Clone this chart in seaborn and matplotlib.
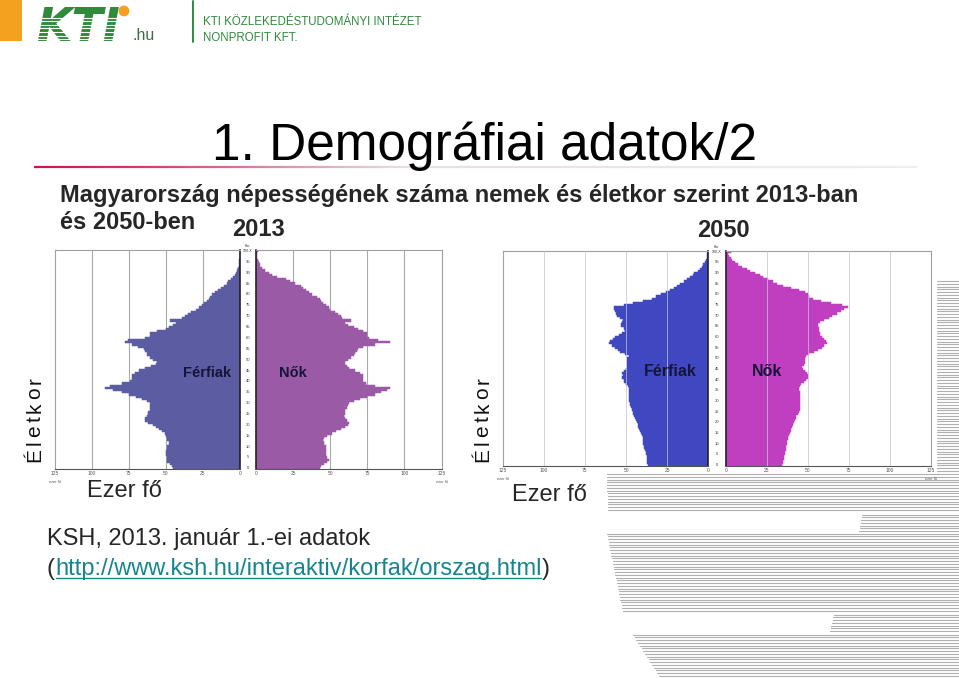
import matplotlib
matplotlib.use("Agg")
import matplotlib.pyplot as plt
import matplotlib.transforms as mtransforms
from matplotlib.collections import LineCollection
from matplotlib.colors import LinearSegmentedColormap
import numpy as np
import pandas as pd
import seaborn as sns

# ---------------- data (thousand persons, single years of age 0..100+) ----------------
ages = list(range(0, 101))

men_2013 = [
    45, 46, 47, 49, 49, 49, 50, 50, 50, 49,
    49, 48, 48, 49, 49, 50, 51, 53, 55, 57,
    59, 62, 64, 64, 63, 62, 62, 61, 61, 61,
    61, 63, 66, 70, 75, 80, 86, 91, 88, 80,
    74, 73, 73, 73, 71, 68, 64, 60, 57, 56,
    59, 61, 63, 63, 64, 65, 69, 73, 78, 76,
    64, 61, 61, 56, 50, 48, 45, 43, 47, 39,
    37, 35, 33, 30, 28, 26, 24, 22, 21, 20,
    19, 17, 15, 13, 11, 9, 8, 6, 5, 3.5,
    2.5, 1.8, 1.3, 1.0, 0.7, 0.5, 0.4, 0.3, 0.2, 0.1,
    0.3,
]
women_2013 = [
    43, 44, 46, 48, 49, 48, 47, 47, 47, 47,
    47, 46, 46, 45, 46, 48, 51, 54, 57, 60,
    62, 63, 61, 60, 59, 60, 60, 60, 61, 62,
    63, 66, 70, 75, 80, 84, 88, 90, 80, 74,
    72, 72, 72, 72, 70, 67, 63, 61, 60, 60,
    62, 64, 66, 67, 68, 69, 72, 80, 90, 82,
    76, 75, 75, 72, 69, 66, 62, 60, 64, 58,
    57, 55, 53, 50, 49, 47, 45, 44, 43, 41,
    38, 36, 34, 32, 30, 26, 23, 20, 14, 11,
    9, 6, 4, 3, 2.5, 2, 1.5, 1, 0.8, 0.6,
    1.5,
]
men_2050 = [
    36.5, 37, 37, 37.5, 37.5, 38, 38, 38.5, 39, 39,
    39.5, 39.5, 40, 40, 40.5, 41, 41.5, 42, 42.5, 43,
    43.5, 44, 44.5, 45, 45.5, 46, 46.5, 47, 47.5, 47.5,
    48, 48, 48, 48, 48, 48, 48.5, 49, 50, 51,
    51.5, 52.5, 52, 52.5, 51.5, 50, 49.5, 49.5, 49.5, 49.5,
    49.5, 48.5, 50.5, 53.5, 55, 56.5, 58.5, 60.5, 60, 58,
    56.5, 54.5, 52.5, 50.5, 51.5, 53, 53, 52.5, 52, 53.5,
    55.5, 56, 56.5, 57.5, 57.5, 51.5, 45.5, 39.5, 34.5, 31.5,
    29, 26, 23, 21, 19, 17, 15, 13, 11, 9.5,
    8.5, 6.5, 5, 4, 3, 2, 1.4, 1, 0.7, 0.5,
    0.4,
]
women_2050 = [
    34.5, 35, 35, 35.5, 35.5, 36, 36, 36.5, 37, 37,
    37.5, 37.5, 38, 38, 38.5, 39, 39.5, 40, 40.5, 41,
    41.5, 42, 42.5, 43, 44, 44.5, 45, 45.5, 45.5, 45.5,
    45.5, 45.5, 45, 45, 45, 44.5, 44.5, 45, 46, 47.5,
    49, 50, 50, 49.5, 48, 47, 46.5, 47.5, 48, 48,
    48, 49, 51, 54, 56.5, 58.5, 60, 61.5, 61, 60,
    58.5, 57.5, 57.5, 57, 57, 56.5, 56.5, 57.5, 60, 63,
    65, 67.5, 70, 72, 74.5, 71, 64, 58, 53, 51,
    50, 48, 44.5, 40, 35, 31, 29, 26, 23, 21,
    18, 15, 13, 10, 7.5, 5.5, 4, 3, 2, 1.5,
    3,
]
assert len(men_2013) == len(women_2013) == len(men_2050) == len(women_2050) == len(ages)

value_ticks = [0, 25, 50, 75, 100, 125]
age_ticks = list(range(0, 100, 5))
age_tick_labels = [str(a) for a in age_ticks]
top_age_label = "100-X"
age_header = "Kor"
unit_small = "ezer fő"

title = "1. Demográfiai adatok/2"
subtitle_1 = "Magyarország népességének száma nemek és életkor szerint 2013-ban"
subtitle_2 = "és 2050-ben"
year_labels = ["2013", "2050"]
sex_labels = ["Férfiak", "Nők"]
axis_age = "Életkor"
axis_unit = "Ezer fő"
source_1 = "KSH, 2013. január 1.-ei adatok"
source_url = "http://www.ksh.hu/interaktiv/korfak/orszag.html"
org_line_1 = "KTI KÖZLEKEDÉSTUDOMÁNYI INTÉZET"
org_line_2 = "NONPROFIT KFT."

# ---------------- style ----------------
sns.set_style("white")
plt.rcParams["font.family"] = ["Liberation Sans", "DejaVu Sans"]

W, H = 959, 678
fig = plt.figure(figsize=(W / 100, H / 100), dpi=100)
fig.patch.set_facecolor("white")


def box(x0, y0, x1, y1):
    return [x0 / W, 1 - y1 / H, (x1 - x0) / W, (y1 - y0) / H]


bg = fig.add_axes([0, 0, 1, 1], zorder=0)
bg.set_xlim(0, W)
bg.set_ylim(H, 0)
bg.axis("off")
renderer = fig.canvas.get_renderer()

# ---------------- header / logo ----------------
GREEN = "#2f8a3c"
bg.add_patch(plt.Rectangle((0, 0), 22, 41, color="#f4a11f", lw=0, zorder=1))
bg.text(36, 41, "KTI", fontsize=33, fontweight="bold", fontstyle="italic",
        family=["DejaVu Sans"], color=GREEN, va="baseline", ha="left", zorder=2)
for yy in np.arange(17.5, 41, 3.6):
    bg.plot([30, 132], [yy, yy], color="white", lw=0.8, zorder=3)
bg.add_patch(plt.Circle((124, 11), 5.4, color="#f4a11f", lw=0, zorder=4))
bg.text(132, 40, ".hu", fontsize=11.5, color="#3d6b47", va="baseline", ha="left")
bg.plot([193, 193], [1, 42], color=GREEN, lw=1.4)
bg.text(203, 25, org_line_1, fontsize=8.3, color=GREEN, va="baseline", ha="left")
bg.text(203, 41, org_line_2, fontsize=8.3, color=GREEN, va="baseline", ha="left")

# ---------------- title ----------------
bg.text(484.5, 160, title, fontsize=37, ha="center", va="baseline", color="black")
cmap = LinearSegmentedColormap.from_list(
    "tl", [(0, "#c3174f"), (0.15, "#d04a76"), (0.42, "#e6e0e2"), (1, "#eeeeee")])
xs = np.linspace(34, 917, 240)
segs = [[(xs[i], 167), (xs[i + 1], 167)] for i in range(len(xs) - 1)]
lc = LineCollection(segs, colors=cmap(np.linspace(0, 1, len(segs))), linewidths=1.6)
bg.add_collection(lc)

bg.text(60, 202, subtitle_1, fontsize=17, fontweight="bold", ha="left", va="baseline")
bg.text(60, 229, subtitle_2, fontsize=17, fontweight="bold", ha="left", va="baseline")
bg.text(232, 236, year_labels[0], fontsize=17, fontweight="bold", ha="left", va="baseline")
bg.text(697, 237, year_labels[1], fontsize=17, fontweight="bold", ha="left", va="baseline")

# ---------------- decorative stripes ----------------
stripe_bands = [
    (281, 472, 937, 937),
    (474, 512, 607, 608),
    (514.5, 531, 862, 859),
    (533.5, 612, 607, 623),
    (614.5, 632, 834, 830),
    (634.5, 677, 633, 660),
]
for y0, y1, xl0, xl1 in stripe_bands:
    for yy in np.arange(y0, y1 + 0.1, 2.75):
        f = (yy - y0) / max(y1 - y0, 1)
        bg.plot([xl0 + f * (xl1 - xl0), 959], [yy, yy], color="#b0b0b0", lw=0.8, zorder=1)


# ---------------- pyramids ----------------
def panel(rect, values, color, side, grid_top, label, label_x, label_size):
    ax = fig.add_axes(box(*rect), zorder=2)
    df = pd.DataFrame({"age": ages, "value": values})
    sns.barplot(data=df, x="value", y="age", orient="h", native_scale=True,
                color=color, saturation=1, width=1.0, errorbar=None,
                linewidth=0.35, edgecolor=color, ax=ax, zorder=2)
    ax.set_ylim(-0.5, 100.5)
    ax.set_xlim((125, 0) if side == "m" else (0, 125))
    ax.set_xlabel("")
    ax.set_ylabel("")
    ax.set_yticks([])
    ax.set_xticks(value_ticks)
    ax.set_xticklabels([str(v) for v in value_ticks], fontsize=3.5, color="#555555")
    ax.tick_params(axis="x", length=0, pad=1.5)
    for v in value_ticks[1:-1]:
        if grid_top:
            ax.axvline(v, color="#c4c4d4", lw=0.7, alpha=0.75, zorder=3)
        else:
            ax.axvline(v, color="#a8a8a8", lw=0.8, zorder=1)
    for s in ax.spines.values():
        s.set_visible(True)
        s.set_color("#a0a0a0")
        s.set_linewidth(0.8)
    ax.spines["bottom"].set_color("#555555")
    inner = "right" if side == "m" else "left"
    ax.spines[inner].set_color("#222222")
    ax.spines[inner].set_linewidth(1.2)
    ax.text(label_x, 44, label, fontsize=label_size, fontweight="bold",
            color="#15153a", ha="center", va="center", zorder=5)
    ax.text(125, -5.5, unit_small, fontsize=2.8, color="#555555", ha="center", va="top",
            clip_on=False)
    return ax


def age_column(ax_m, width_px, gap_px):
    trans = mtransforms.blended_transform_factory(ax_m.transAxes, ax_m.transData)
    xf = 1 + (gap_px / 2) / width_px
    for a, lab in zip(age_ticks, age_tick_labels):
        ax_m.text(xf, a, lab, transform=trans, fontsize=3, color="#333333",
                  ha="center", va="center", clip_on=False)
    ax_m.text(xf, 100, top_age_label, transform=trans, fontsize=2.6, color="#333333",
              ha="center", va="center", clip_on=False)
    ax_m.text(xf, 102.2, age_header, transform=trans, fontsize=2.6, color="#333333",
              ha="center", va="center", clip_on=False)


m13 = panel((55, 249.9, 240, 469.4), men_2013, "#5c5ca2", "m", False, sex_labels[0], 22, 10.5)
f13 = panel((256, 249.9, 441.5, 469.4), women_2013, "#9a5aa6", "f", False, sex_labels[1], 25, 10.5)
m50 = panel((502.7, 250.6, 708.3, 466.1), men_2050, "#3f48c0", "m", True, sex_labels[0], 23, 11.5)
f50 = panel((725.7, 250.6, 931, 466.1), women_2050, "#c03fc0", "f", True, sex_labels[1], 25, 11.5)
age_column(m13, 185, 16)
age_column(m50, 205.6, 17.4)


# ---------------- axis titles ----------------
def vertical_spaced(text, x, y_bottom, size, gap):
    y = y_bottom
    for ch in text:
        t = bg.text(x, y, ch, rotation=90, ha="center", va="bottom", fontsize=size,
                    color="#111111")
        bb = t.get_window_extent(renderer)
        y -= bb.height + gap


vertical_spaced(axis_age, 35, 462, 15, 3.3)
vertical_spaced(axis_age, 483, 462, 15, 3.3)

bg.text(87, 497, axis_unit, fontsize=17, ha="left", va="baseline")
bg.text(512, 501, axis_unit, fontsize=17, ha="left", va="baseline")

# ---------------- source ----------------
bg.text(47, 545, source_1, fontsize=17, ha="left", va="baseline")
TEAL = "#16868c"
t1 = bg.text(47, 575, "(", fontsize=17, ha="left", va="baseline")
x_url = t1.get_window_extent(renderer).x1
t2 = bg.text(x_url, 575, source_url, fontsize=17, ha="left", va="baseline", color=TEAL)
bb2 = t2.get_window_extent(renderer)
bg.plot([bb2.x0 + 1, bb2.x1 - 1], [578, 578], color=TEAL, lw=1.0)
bg.text(bb2.x1, 575, ")", fontsize=17, ha="left", va="baseline")

fig.savefig("out.png", dpi=100, facecolor="white")
